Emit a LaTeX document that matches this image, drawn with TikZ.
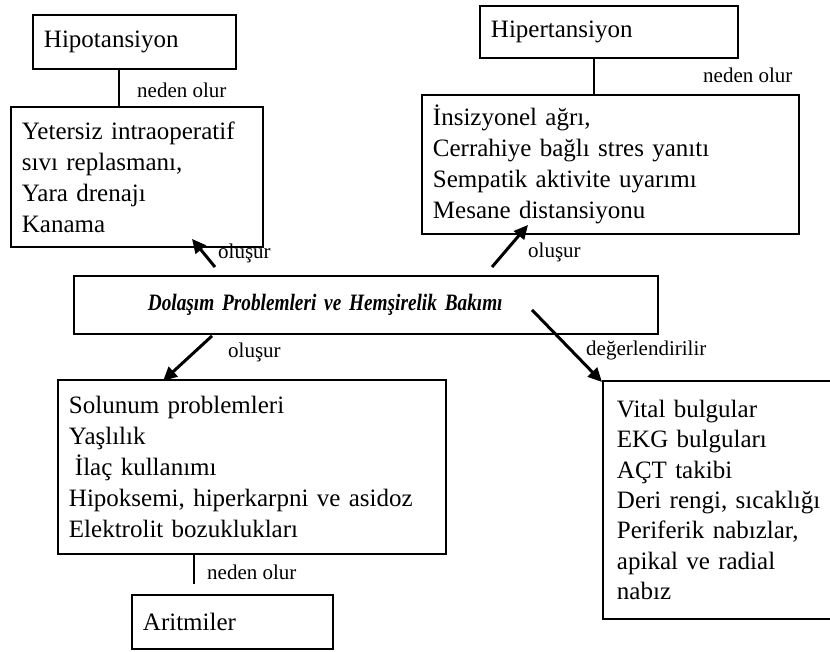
\documentclass[tikz,border=0pt]{standalone}
\usepackage{fontspec}
\setmainfont{Liberation Serif}
\newfontfamily\dardaralt{Liberation Serif}[FakeStretch=0.82]
\usetikzlibrary{arrows.meta}

\begin{document}
\begin{tikzpicture}[
    x=1pt, y=-1pt,
    every node/.style={inner sep=0pt},
    kutu/.style={draw, line width=1.9pt, anchor=north west, align=left,
        inner xsep=11pt, font=\fontsize{25}{31}\selectfont},
    baslik/.style={kutu, font=\dardaralt\fontsize{23.5}{28}\selectfont\bfseries\itshape},
    etiket/.style={anchor=base west, font=\fontsize{21}{24}\selectfont},
    ok/.style={line width=3pt, -{Triangle[length=14pt, width=13pt]}},
    cizgi/.style={line width=1.3pt}
]
\useasboundingbox (0,0) rectangle (830,651);

% Top left
\node[kutu, text width=181pt, minimum height=54pt] (hipo) at (32,14) {Hipotansiyon};
\node[kutu, text width=230pt, minimum height=140pt] (yetersiz) at (10,106)
    {Yetersiz intraoperatif\\ sıvı replasmanı,\\ Yara drenajı\\ Kanama};

% Top right
\node[kutu, text width=236pt, minimum height=52pt] (hiper) at (479,5) {Hipertansiyon};
\node[kutu, text width=355pt, minimum height=139pt] (insizyon) at (421,94)
    {İnsizyonel ağrı,\\ Cerrahiye bağlı stres yanıtı\\ Sempatik aktivite uyarımı\\ Mesane distansiyonu};

% Centre
\node[baslik, text width=562pt, minimum height=58pt] (merkez) at (73,275)
    {\hspace*{63pt}Dolaşım Problemleri ve Hemşirelik Bakımı};

% Bottom left
\node[kutu, text width=366pt, minimum height=174pt] (solunum) at (57,379)
    {Solunum problemleri\\ Yaşlılık\\ \hspace*{6pt}İlaç kullanımı\\ Hipoksemi, hiperkarpni ve asidoz\\ Elektrolit bozuklukları};
\node[kutu, text width=179pt, minimum height=54pt] (aritmi) at (131,594) {Aritmiler};

% Bottom right, its right side lies past the page edge
\node[kutu, draw=none, inner xsep=13pt, text width=250pt, minimum height=236pt,
    font=\fontsize{25}{30.3}\selectfont] (vital) at (603,381)
    {Vital bulgular\\ EKG bulguları\\ AÇT takibi\\ Deri rengi, sıcaklığı\\ Periferik nabızlar,\\ apikal ve radial\\ nabız};
\draw[line width=1.9pt] (vital.north east) -- (vital.north west) -- (vital.south west) -- (vital.south east);

% neden olur
\draw[cizgi] ([xshift=-15.5pt]hipo.south) -- ([xshift=-15.5pt]hipo.south |- yetersiz.north);
\draw[cizgi] ([xshift=-15pt]hiper.south) -- ([xshift=-15pt]hiper.south |- insizyon.north);
\draw[cizgi] ([xshift=-38.5pt]aritmi.north |- solunum.south) -- ([shift={(-38.5,-10)}]aritmi.north);

% arrows
\draw[ok] ([shift={(142,-8)}]merkez.north west) -- ([shift={(182,-9)}]yetersiz.south west);
\draw[ok] ([shift={(419,-8)}]merkez.north west) -- ([shift={(107,-10)}]insizyon.south west);
\draw[ok] ([shift={(139,1)}]merkez.south west) -- ([shift={(106,2)}]solunum.north west);
\draw[ok] ([shift={(459,-25)}]merkez.south west) -- ([shift={(-1,1)}]vital.north west);

% labels
\node[etiket] (neden1) at (137,97) {neden olur};
\node[etiket] (neden2) at (703,82) {neden olur};
\node[etiket] (neden3) at (207,579) {neden olur};
\node[etiket] (olusur1) at (218,258) {oluşur};
\node[etiket] (olusur2) at (528,257) {oluşur};
\node[etiket] (olusur3) at (228,357) {oluşur};
\node[etiket] (deger) at (586,355) {değerlendirilir};
\end{tikzpicture}
\end{document}
